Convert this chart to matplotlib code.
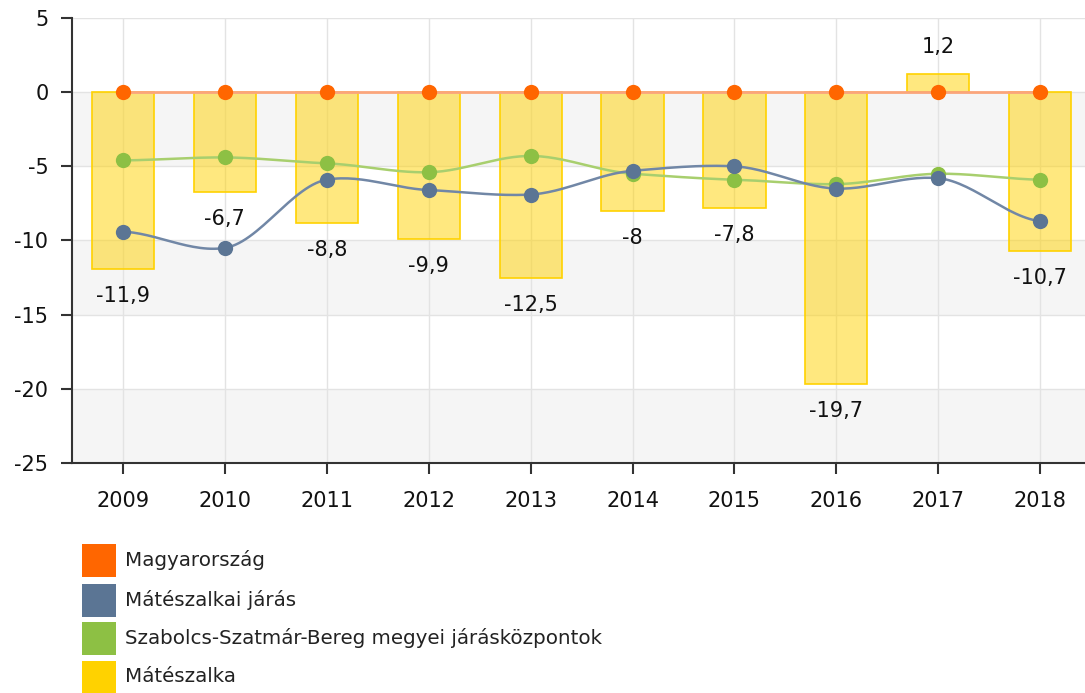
import numpy as np
import matplotlib
matplotlib.use("Agg")
import matplotlib.pyplot as plt
from matplotlib.patches import Rectangle

years = ["2009", "2010", "2011", "2012", "2013", "2014", "2015", "2016", "2017", "2018"]
magyarorszag = [0, 0, 0, 0, 0, 0, 0, 0, 0, 0]
mateszalkai_jaras = [-9.4, -10.5, -5.9, -6.6, -6.9, -5.3, -5.0, -6.5, -5.8, -8.7]
jaraskozpontok = [-4.6, -4.4, -4.8, -5.4, -4.3, -5.5, -5.9, -6.2, -5.5, -5.9]
mateszalka = [-11.9, -6.7, -8.8, -9.9, -12.5, -8, -7.8, -19.7, 1.2, -10.7]

series_names = ["Magyarország", "Mátészalkai járás",
                "Szabolcs-Szatmár-Bereg megyei járásközpontok", "Mátészalka"]
series_colors = ["#ff6600", "#5b7594", "#8dc044", "#ffd200"]

plt.rcParams['font.family'] = ['DejaVu Sans']
plt.rcParams['axes.unicode_minus'] = False


def smooth(x, y, steps=30):
    # catmull-rom style curve through the points, for drawing only
    x = np.asarray(x, float)
    y = np.asarray(y, float)
    xs, ys = [], []
    n = len(x)
    for i in range(n - 1):
        y0 = y[i - 1] if i > 0 else y[i]
        y3 = y[i + 2] if i + 2 < n else y[i + 1]
        m1 = (y[i + 1] - y0) / 2 * 0.6
        m2 = (y3 - y[i]) / 2 * 0.6
        t = np.linspace(0, 1, steps)
        h00 = 2 * t**3 - 3 * t**2 + 1
        h10 = t**3 - 2 * t**2 + t
        h01 = -2 * t**3 + 3 * t**2
        h11 = t**3 - t**2
        xs.append(x[i] + t * (x[i + 1] - x[i]))
        ys.append(h00 * y[i] + h10 * m1 + h01 * y[i + 1] + h11 * m2)
    return np.concatenate(xs), np.concatenate(ys)


fig = plt.figure(figsize=(10.85, 6.93), dpi=100)
ax = fig.add_axes([72 / 1085, 1 - 463 / 693, 1013 / 1085, 445 / 693])

x = np.arange(len(years))
ax.set_xlim(-0.5, 9.44)
ax.set_ylim(-25, 5)

# alternating background bands
for lo, hi in [(-5, 0), (-15, -10), (-25, -20)]:
    ax.axhspan(lo, hi, color="#f5f5f5", zorder=0, lw=0)

for yv in [-20, -15, -10, -5, 0, 5]:
    ax.axhline(yv, color="#e3e3e3", lw=1, zorder=0.5)
for xv in x:
    ax.axvline(xv, color="#e3e3e3", lw=1, zorder=0.5)

ax.bar(x, mateszalka, width=0.61, color="#ffd200", alpha=0.5, zorder=2, lw=0)
ax.bar(x, mateszalka, width=0.61, fill=False, edgecolor="#ffd200", lw=1.2, zorder=2.1)

for xi, v in zip(x, mateszalka):
    lbl = str(v).replace(".", ",")
    off = 19.5 if v > 0 else -19.5
    ax.annotate(lbl, (xi, v), xytext=(0, off), textcoords="offset points",
                ha="center", va="center", fontsize=15, color="#111111", zorder=6)

sx, sy = smooth(x, jaraskozpontok)
ax.plot(sx, sy, color="#a8cf6e", lw=1.8, zorder=3)
sx, sy = smooth(x, mateszalkai_jaras)
ax.plot(sx, sy, color="#7187a6", lw=1.8, zorder=3.2)
ax.plot(x, magyarorszag, color="#fba57b", lw=2, zorder=3.4)

ax.plot(x, jaraskozpontok, "o", color="#8dc044", ms=11, mew=0, zorder=4)
ax.plot(x, mateszalkai_jaras, "o", color="#5b7594", ms=11, mew=0, zorder=4.2)
ax.plot(x, magyarorszag, "o", color="#ff6600", ms=11, mew=0, zorder=4.4)

for s in ["top", "right"]:
    ax.spines[s].set_visible(False)
for s in ["left", "bottom"]:
    ax.spines[s].set_color("#333333")
    ax.spines[s].set_linewidth(1.5)

ax.set_xticks(x)
ax.set_xticklabels(years)
ax.set_yticks([-25, -20, -15, -10, -5, 0, 5])
ax.tick_params(axis="both", length=8, width=1.5, color="#333333",
               labelsize=15, labelcolor="#111111")
ax.tick_params(axis="x", pad=12)
ax.tick_params(axis="y", pad=9)

# legend drawn below the plot
row_y = [560, 600, 638, 677]
for name, col, ry in zip(series_names, series_colors, row_y):
    fig.patches.append(Rectangle((82 / 1085, 1 - (ry + 17) / 693), 34 / 1085, 33 / 693,
                                 transform=fig.transFigure, facecolor=col,
                                 edgecolor="none"))
    fig.text(125 / 1085, 1 - ry / 693, name, ha="left", va="center",
             fontsize=14.3, color="#222222")

fig.savefig("out.png", dpi=100)
